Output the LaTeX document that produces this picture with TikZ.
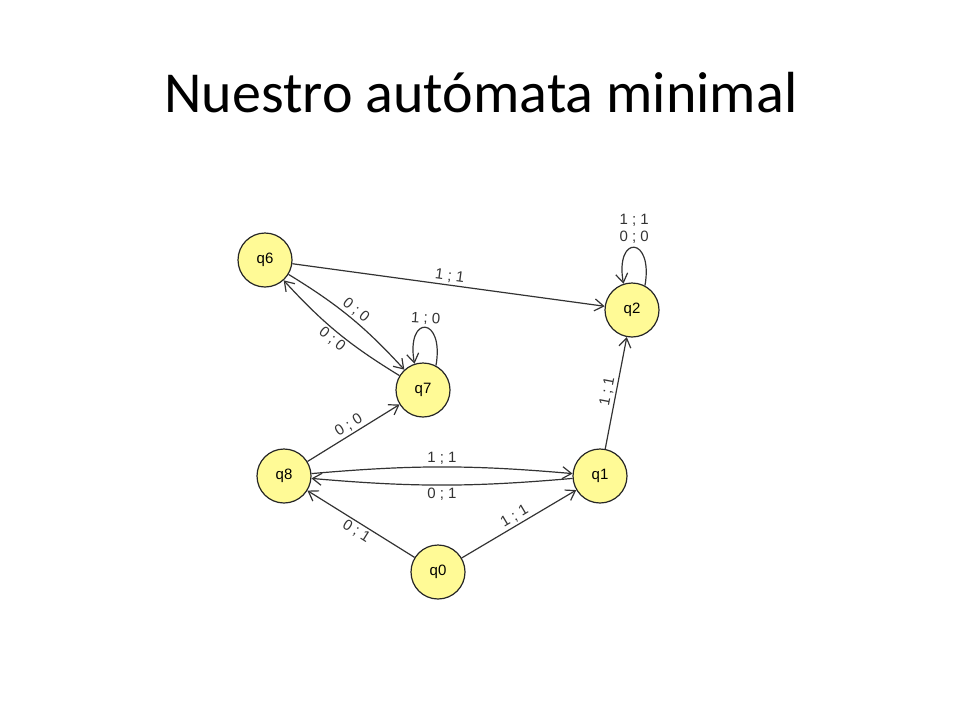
\documentclass[tikz,border=0pt]{standalone}
\usepackage{fontspec}
\setmainfont{Carlito}
\newfontfamily\lab{Liberation Sans}
\usetikzlibrary{arrows.meta}
\begin{document}
\begin{tikzpicture}[x=1pt,y=-1pt,
  st/.style={circle,draw=black!85,line width=1.2pt,fill={rgb,255:red,255;green,250;blue,150},minimum size=54pt,inner sep=0pt,font=\lab\fontsize{15}{15}\selectfont},
  tr/.style={draw=black!80,line width=1.2pt,-{Straight Barb[length=9pt,width=12pt]}},
  lb/.style={font=\lab\fontsize{15}{17}\selectfont,text=black!80,sloped,above,inner sep=2pt}]
\useasboundingbox (0,0) rectangle (960,720);
\node (title) at (481,93) {\fontsize{58}{66}\selectfont Nuestro autómata minimal};
\node[st] (q6) at (265,260) {q6};
\node[st] (q2) at (632,310) {q2};
\node[st] (q7) at (423,390) {q7};
\node[st] (q8) at (284,476) {q8};
\node[st] (q1) at (600,476) {q1};
\node[st] (q0) at (438,572) {q0};
\draw[tr] (q6) -- node[lb] {1 ; 1} (q2);
\draw[tr] (q6) to[bend left=8] node[lb] {0 ; 0} (q7);
\draw[tr] (q7) to[bend left=8] node[lb,below] {0 ; 0} (q6);
\draw[tr] (q7.62) to[out=80,in=100,looseness=6] node[lb,above] {1 ; 0} (q7.108);
\draw[tr] (q2.62) to[out=80,in=100,looseness=6] node[above,font=\lab\fontsize{15}{17}\selectfont,text=black!80,align=center] {1 ; 1\\0 ; 0} (q2.108);
\draw[tr] (q8) -- node[lb] {0 ; 0} (q7);
\draw[tr] (q8) to[bend left=5] node[lb] {1 ; 1} (q1);
\draw[tr] (q1) to[bend left=5] node[lb,below] {0 ; 1} (q8);
\draw[tr] (q1) -- node[lb] {1 ; 1} (q2);
\draw[tr] (q0) -- node[lb] {1 ; 1} (q1);
\draw[tr] (q0) -- node[lb,below] {0 ; 1} (q8);
\end{tikzpicture}
\end{document}
